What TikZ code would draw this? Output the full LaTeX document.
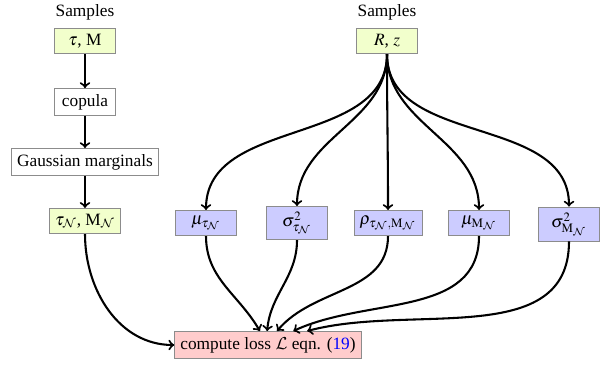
\documentclass[tikz,border=0pt]{standalone}
\usepackage{mathptmx}
\DeclareMathAlphabet{\mathcal}{OMS}{cmsy}{m}{n}
\usepackage{fontspec}
\setmainfont{Liberation Serif}
\usetikzlibrary{arrows}

\tikzset{box/.style={draw=black!45,minimum width=1.25cm},
	samplebox/.style={box,fill=lime!20},
	statbox/.style={box,fill=blue!20},
	lossbox/.style={box,fill=red!20},
	flow/.style={->,very thick}}

\begin{document}
\begin{tikzpicture}[x=0.578pt,y=-0.578pt]
\useasboundingbox (0,0) rectangle (603,364);
% left branch
\node (sampL) at (85,12) {Samples};
\node[samplebox] (tauM) at (85,41) {$\tau$, M};
\node[box] (copula) at (85,102) {copula};
\node[box] (gauss) at (85,162) {Gaussian marginals};
\node[samplebox] (tauMN) at (85,221) {$\tau_{\mathcal{N}}$, M$_{\mathcal{N}}$};
% right branch
\node (sampR) at (387,12) {Samples};
\node[samplebox] (Rz) at (387,41) {$R$, $z$};
\node[statbox] (mutau) at (206,223) {$\mu_{\tau_{\mathcal{N}}}$};
\node[statbox] (sigtau) at (297,223) {$\sigma^2_{\tau_{\mathcal{N}}}$};
\node[statbox] (rho) at (388,223) {$\rho_{\tau_{\mathcal{N}},\mathrm{M}_{\mathcal{N}}}$};
\node[statbox] (muM) at (479,223) {$\mu_{\mathrm{M}_{\mathcal{N}}}$};
\node[statbox] (sigM) at (569,224) {$\sigma^2_{\mathrm{M}_{\mathcal{N}}}$};
\node[lossbox] (loss) at (268,345) {compute loss $\mathcal{L}$ eqn. (\textcolor{blue}{19})};

\draw[flow] (tauM) -- (copula);
\draw[flow] (copula) -- (gauss);
\draw[flow] (gauss) -- (tauMN);
\draw[flow] (tauMN.south) to[out=-90,in=180] (loss.west);

\foreach \n in {mutau,sigtau,rho,muM,sigM}
	\draw[flow] (Rz.south) to[out=-90,in=90] (\n.north);

\draw[flow] (mutau.south) to[out=-90,in=120] ([xshift=-4.7pt]loss.north);
\draw[flow] (sigtau.south) to[out=-90,in=85] ([xshift=-0.5pt]loss.north);
\draw[flow] (rho.south) to[out=-90,in=50] ([xshift=5.2pt]loss.north);
\draw[flow] (muM.south) to[out=-90,in=25] ([xshift=14.6pt]loss.north);
\draw[flow] (sigM.south) to[out=-90,in=15] ([xshift=22.6pt]loss.north);
\end{tikzpicture}
\end{document}
